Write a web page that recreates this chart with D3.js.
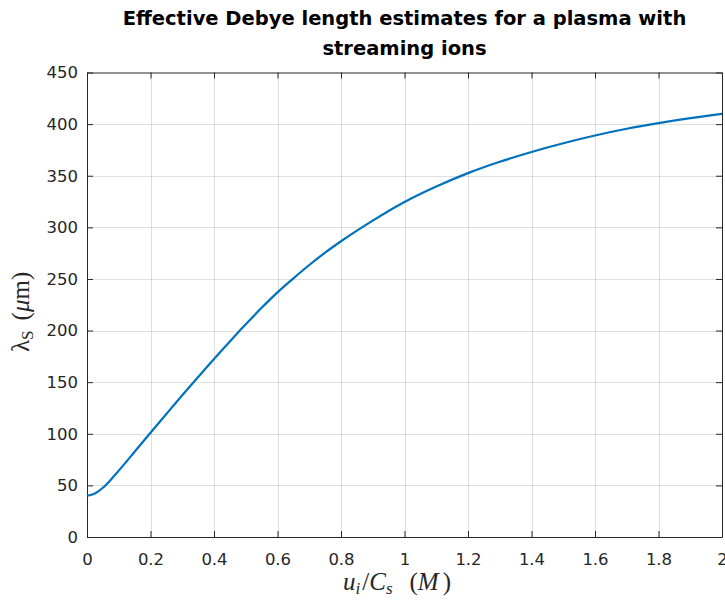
<!DOCTYPE html>
<html>
<head>
<meta charset="utf-8">
<style>
  body { margin: 0; background: #fff; }
  .grid line { stroke: #262626; stroke-opacity: 0.15; stroke-width: 1; }
  .axis path, .axis line { stroke: #262626; stroke-width: 1; }
  .axis text { fill: #262626; font-family: "DejaVu Sans", sans-serif; font-size: 16.5px; }
  .title { font-family: "DejaVu Sans", sans-serif; font-weight: bold; font-size: 19.5px; fill: #000; text-anchor: middle; }
  .label { font-family: "Liberation Serif", "DejaVu Serif", serif; font-size: 25px; fill: #262626; }
</style>
</head>
<body>
<svg class="chart"></svg>
<script src="https://cdn.jsdelivr.net/npm/d3@7"></script>
<script>
    // Mach number u_i / C_s
    var mach = [0, 0.025, 0.05, 0.075, 0.1, 0.15, 0.2, 0.25, 0.3, 0.35, 0.4, 0.45, 0.5,
      0.55, 0.6, 0.65, 0.7, 0.75, 0.8, 0.9, 1.0, 1.1, 1.2, 1.3, 1.4, 1.5, 1.6, 1.7, 1.8, 1.9, 2.0];
    // effective Debye length (um)
    var debye = [40, 42.2, 47.7, 55.5, 64.3, 82.6, 101, 119.2, 137.3, 155, 172.5, 189.5, 206,
      222, 237, 250.5, 263.5, 275.5, 286.5, 306.5, 324.5, 339.5, 352.5, 363.5, 373, 381.5, 389, 395.5, 401, 405.8, 410];

    var xTicks = [0, 0.2, 0.4, 0.6, 0.8, 1, 1.2, 1.4, 1.6, 1.8, 2];
    var yTicks = [0, 50, 100, 150, 200, 250, 300, 350, 400, 450];

    var width = 725, height = 600;
    var mLeft = 87, mRight = 722, mTop = 72.5, mBottom = 537;

    var svg = d3.select(".chart")
      .attr("width", width)
      .attr("height", height);

    var x = d3.scaleLinear().domain([0, 2]).range([mLeft, mRight]);
    var y = d3.scaleLinear().domain([0, 450]).range([mBottom, mTop]);

    // grid
    var grid = svg.append("g").attr("class", "grid");
    grid.selectAll(".gx").data(xTicks.slice(1, -1)).enter().append("line")
      .attr("x1", function(d) { return Math.round(x(d)) + 0.5; })
      .attr("x2", function(d) { return Math.round(x(d)) + 0.5; })
      .attr("y1", mTop).attr("y2", mBottom);
    grid.selectAll(".gy").data(yTicks.slice(1, -1)).enter().append("line")
      .attr("y1", function(d) { return Math.round(y(d)) + 0.5; })
      .attr("y2", function(d) { return Math.round(y(d)) + 0.5; })
      .attr("x1", mLeft).attr("x2", mRight);

    // axes (ticks inward, box on)
    svg.append("g").attr("class", "axis")
      .attr("transform", "translate(0," + mBottom + ")")
      .call(d3.axisBottom(x).tickValues(xTicks).tickSizeInner(-6).tickSizeOuter(0).tickPadding(16)
        .tickFormat(function(d) { return d; }));
    svg.append("g").attr("class", "axis")
      .attr("transform", "translate(0," + mTop + ")")
      .call(d3.axisTop(x).tickValues(xTicks).tickSizeInner(-6).tickSizeOuter(0).tickFormat(""));
    svg.append("g").attr("class", "axis")
      .attr("transform", "translate(" + mLeft + ",0)")
      .call(d3.axisLeft(y).tickValues(yTicks).tickSizeInner(-6).tickSizeOuter(0).tickPadding(9));
    svg.append("g").attr("class", "axis")
      .attr("transform", "translate(" + mRight + ",0)")
      .call(d3.axisRight(y).tickValues(yTicks).tickSizeInner(-6).tickSizeOuter(0).tickFormat(""));

    // curve
    var line = d3.line()
      .x(function(d, i) { return x(mach[i]); })
      .y(function(d) { return y(d); })
      .curve(d3.curveMonotoneX);
    svg.append("path")
      .datum(debye)
      .attr("d", line)
      .attr("fill", "none")
      .attr("stroke", "#0072BD")
      .attr("stroke-width", 2.2);

    // title
    var cx = (mLeft + mRight) / 2;
    var title = svg.append("text").attr("class", "title");
    title.append("tspan").attr("x", cx).attr("y", 25).text("Effective Debye length estimates for a plasma with");
    title.append("tspan").attr("x", cx).attr("y", 55).text("streaming ions");

    // x label
    var xl = svg.append("text").attr("class", "label").attr("x", 343).attr("y", 590);
    xl.append("tspan").attr("font-style", "italic").text("u");
    xl.append("tspan").attr("font-style", "italic").attr("font-size", "17px").attr("dy", 4).text("i");
    xl.append("tspan").attr("dy", -4).attr("dx", 2).text("/");
    xl.append("tspan").attr("font-style", "italic").text("C");
    xl.append("tspan").attr("font-style", "italic").attr("font-size", "17px").attr("dy", 4).text("s");
    xl.append("tspan").attr("dy", -4).attr("dx", 17).text("(");
    xl.append("tspan").attr("font-style", "italic").text("M");
    xl.append("tspan").attr("dx", 4).text(")");

    // y label
    var yl = svg.append("text").attr("class", "label")
      .attr("transform", "translate(29,352) rotate(-90)");
    yl.append("tspan").text("\u03bb");
    yl.append("tspan").attr("font-size", "17px").attr("dy", 4).text("S");
    yl.append("tspan").attr("dy", -4).attr("dx", 10).text("(");
    yl.append("tspan").attr("font-style", "italic").text("\u03bc");
    yl.append("tspan").text("m)");
</script>
</body>
</html>
